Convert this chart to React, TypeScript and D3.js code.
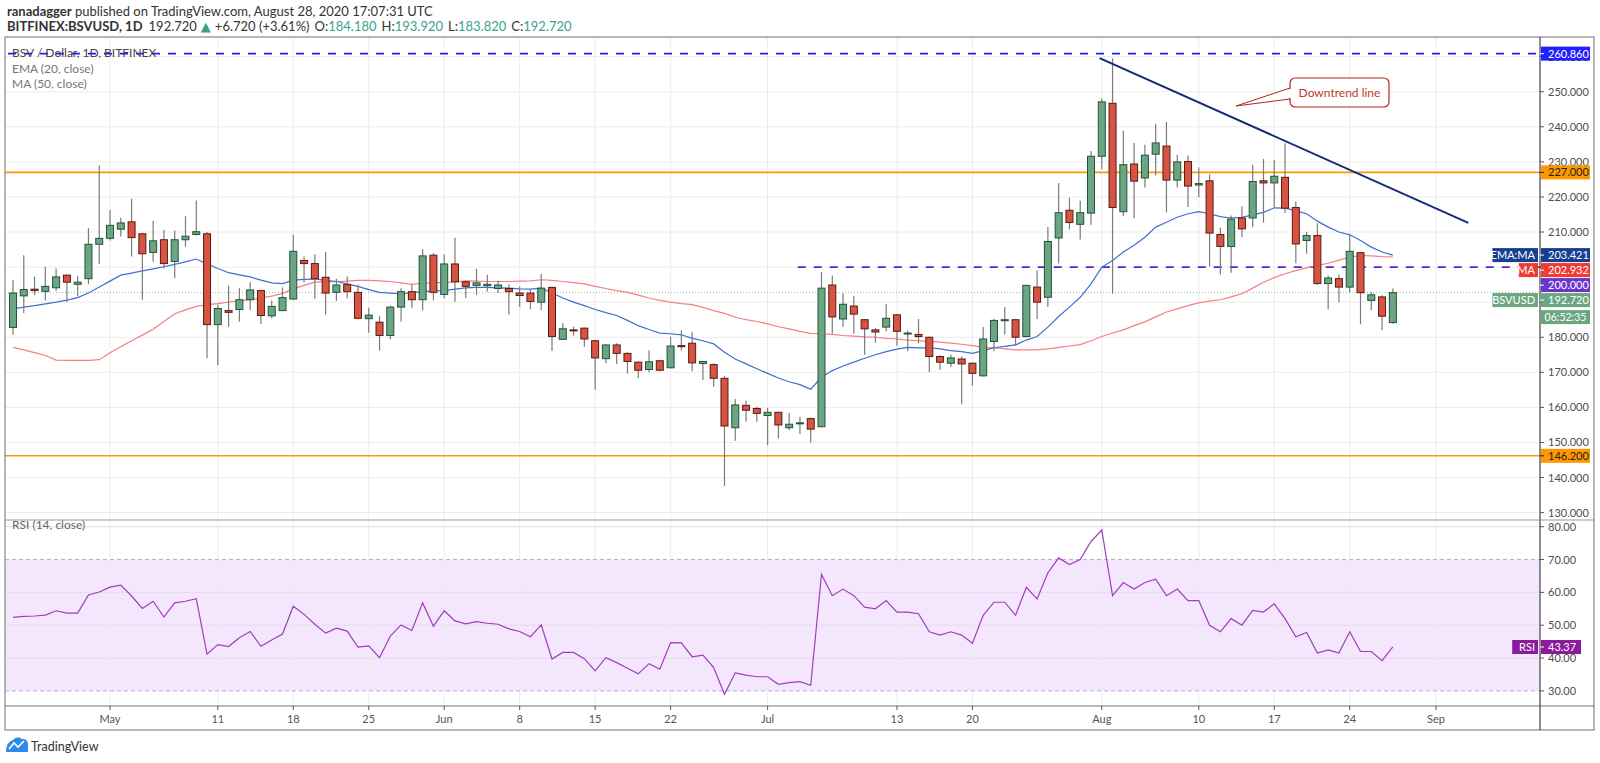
import React from 'react';
import * as d3 from 'd3';

// BSV / USD daily candles, 22 Apr 2020 -> 28 Aug 2020
const firstDay = new Date(Date.UTC(2020, 3, 22));
const axisEndDay = new Date(Date.UTC(2020, 8, 4));

const opens = [
  182.8, 191.8, 193.7, 193.1, 194.1, 197.7, 195.1, 196.7, 206.5,
  208.2, 210.8, 212.9, 209.5, 204.2, 207.8, 201.6, 207.8, 209.3, 209.5, 183.6, 187.6, 187.9, 190.7, 193.3, 186.1,
  187.6, 190.9, 201.9, 201.0, 197.1, 192.8, 195.0, 192.8, 185.3, 184.3, 180.5, 188.6, 193.0, 190.7, 203.4,
  192.2, 200.9, 195.8, 194.8, 194.7, 193.9, 193.9, 192.6, 192.6, 190.0, 194.2, 179.4, 182.1, 182.6, 179.0,
  173.9, 177.8, 175.4, 172.9, 170.8, 173.3, 171.3, 177.6, 178.3, 172.5, 172.2, 168.3, 154.2, 160.6, 159.7,
  157.7, 158.6, 154.2, 155.5, 156.8, 154.5, 194.9, 185.2, 188.9, 185.0, 182.1, 182.9, 186.4, 181.1, 180.8,
  180.0, 174.5, 172.6, 173.8, 172.6, 169.0, 178.8, 184.9, 185.0, 180.2, 194.3, 191.4, 208.3, 216.2, 212.2, 215.4,
  231.6, 246.7, 215.8, 229.4, 225.4, 232.2, 234.5, 224.8, 230.1, 223.4, 224.6, 209.3, 205.9, 214.0,
  214.0, 224.6, 224.0, 225.6, 217.0, 207.6, 209.0, 195.3, 196.7, 194.3, 204.1, 190.5, 191.5, 184.18,
];
const highs = [
  196.3, 203.4, 197.3, 200.1, 199.6, 197.9, 197.5, 211.1, 229.0,
  216.3, 214.1, 219.5, 209.8, 213.2, 210.6, 210.4, 214.5, 219.0, 210.0, 189.3, 194.7, 194.0, 195.7, 193.5, 190.5,
  194.2, 209.2, 203.0, 203.6, 204.3, 196.7, 197.3, 195.0, 188.4, 186.1, 189.0, 194.0, 195.0, 205.1, 204.0,
  203.6, 208.4, 196.2, 199.5, 197.8, 196.1, 195.1, 194.5, 193.5, 198.0, 194.5, 184.0, 183.0, 182.8, 179.3,
  178.0, 178.3, 175.7, 173.1, 176.2, 173.4, 180.2, 181.9, 181.6, 173.2, 172.6, 169.0, 162.4, 161.9, 160.2,
  159.8, 158.8, 158.4, 157.3, 157.1, 198.6, 197.6, 192.5, 191.8, 185.2, 182.6, 189.5, 186.6, 181.9, 185.2,
  180.2, 174.8, 175.0, 174.5, 172.8, 182.9, 185.2, 188.6, 185.2, 195.0, 199.0, 211.4, 224.0, 219.8, 218.9, 233.1,
  248.1, 259.5, 238.9, 235.4, 234.9, 240.8, 241.4, 232.0, 231.8, 228.4, 226.4, 211.2, 214.7, 217.3,
  229.2, 230.8, 230.5, 235.3, 218.7, 210.0, 212.5, 197.6, 197.9, 209.5, 204.3, 192.9, 192.0, 193.92,
];
const lows = [
  180.7, 186.9, 192.0, 190.5, 193.2, 190.0, 191.7, 195.1, 200.9,
  207.6, 208.7, 203.0, 190.7, 201.5, 199.6, 196.9, 205.8, 209.0, 174.0, 172.0, 183.0, 184.5, 187.8, 183.8, 185.4,
  187.4, 190.7, 195.6, 191.0, 186.5, 190.3, 191.1, 185.1, 181.3, 176.2, 179.4, 184.5, 188.3, 187.6, 190.5,
  191.1, 190.1, 191.2, 192.1, 193.0, 192.6, 186.5, 188.6, 188.0, 187.8, 176.1, 179.2, 180.5, 177.3, 165.0,
  172.6, 172.4, 169.7, 168.3, 170.0, 170.4, 171.1, 176.2, 170.3, 167.8, 165.9, 137.6, 150.5, 156.0, 155.9,
  149.3, 151.1, 153.5, 152.4, 150.0, 154.3, 181.1, 183.0, 181.1, 175.0, 178.4, 181.7, 177.6, 176.0, 178.3,
  170.0, 170.7, 171.6, 161.0, 166.2, 168.8, 176.0, 180.8, 177.6, 180.0, 185.2, 188.6, 201.0, 210.8, 207.9, 212.1,
  227.9, 192.4, 214.5, 213.9, 222.7, 226.1, 215.6, 222.7, 217.1, 219.9, 200.2, 197.9, 198.4, 208.5,
  211.4, 212.7, 217.1, 215.4, 201.1, 203.8, 195.0, 188.0, 190.0, 192.7, 183.7, 187.7, 182.0, 183.82,
];
const closes = [
  192.6, 193.6, 193.3, 194.5, 197.2, 195.7, 195.7, 206.5, 208.2,
  211.9, 212.6, 208.4, 203.8, 207.5, 201.0, 207.8, 208.8, 210.1, 183.6, 188.2, 187.1, 190.7, 193.5, 186.2, 188.8,
  191.3, 204.5, 201.0, 196.7, 192.6, 194.9, 193.0, 185.4, 186.3, 180.5, 188.6, 193.0, 190.7, 203.2, 192.8,
  200.9, 195.8, 194.5, 195.5, 195.1, 194.9, 193.0, 191.9, 190.2, 194.0, 180.2, 182.4, 182.0, 179.5, 174.1,
  177.8, 175.4, 173.1, 170.6, 173.0, 170.6, 177.5, 177.5, 172.7, 173.1, 168.3, 154.7, 160.7, 159.2, 158.3,
  158.6, 155.0, 155.2, 155.6, 153.8, 194.0, 185.8, 189.4, 186.6, 182.4, 181.5, 185.4, 181.7, 181.2, 180.2,
  174.5, 172.9, 174.1, 172.4, 169.7, 179.5, 184.8, 185.0, 180.0, 194.8, 190.0, 207.3, 215.5, 212.7, 215.5, 231.6,
  247.1, 217.0, 229.2, 224.5, 231.9, 235.4, 224.8, 230.0, 223.1, 223.8, 209.7, 205.9, 213.7, 210.9,
  224.4, 224.0, 225.9, 216.8, 206.6, 209.0, 195.3, 196.9, 194.3, 204.5, 192.7, 192.1, 186.0, 192.72,
];

// EMA (20, close) and MA (50, close) as drawn
const ema20 = [
  188.1, 188.6, 189.0, 189.5, 190.0, 190.6, 191.3, 192.6, 194.3,
  196.0, 197.7, 198.3, 198.9, 199.5, 200.1, 200.8, 201.5, 202.3, 200.9, 199.6, 198.4, 197.8, 197.2, 196.3, 195.5,
  195.3, 196.3, 196.5, 196.6, 196.2, 195.9, 195.2, 194.5, 193.6, 192.8, 192.6, 192.4, 192.7, 193.0, 193.2,
  193.3, 193.7, 194.1, 194.2, 194.2, 194.1, 194.0, 193.8, 193.7, 194.0, 192.6, 191.2, 190.0, 189.0, 187.9,
  187.0, 186.2, 184.8, 183.3, 182.2, 181.2, 181.0, 180.7, 179.7, 179.0, 178.1, 175.7, 173.8, 172.4, 171.0,
  169.7, 168.4, 167.3, 166.5, 165.2, 168.6, 170.5, 171.8, 172.9, 174.0, 175.0, 175.9, 176.6, 177.1, 177.0,
  177.0, 176.7, 176.2, 175.9, 175.4, 176.2, 177.0, 177.4, 177.8, 179.2, 180.2, 182.9, 185.9, 188.6, 191.4, 195.2,
  200.0, 201.9, 204.3, 206.2, 208.5, 211.4, 212.8, 214.2, 215.2, 215.8, 215.2, 214.4, 214.0, 214.2,
  214.9, 215.6, 216.9, 216.8, 216.1, 215.2, 213.1, 211.4, 210.0, 209.2, 207.6, 205.7, 204.3, 203.4,
];
const ma50 = [
  177.1, 176.4, 175.6, 174.8, 173.5, 173.4, 173.4, 173.4, 173.6,
  175.6, 177.3, 179.0, 180.6, 182.3, 184.5, 186.7, 187.8, 188.8, 189.3, 189.6, 190.0, 190.4, 190.7, 191.2, 191.7,
  192.5, 193.8, 194.8, 195.7, 195.8, 195.9, 196.0, 196.2, 196.2, 196.1, 195.9, 195.5, 195.1, 195.4, 195.6,
  195.6, 195.8, 196.1, 196.0, 195.9, 195.9, 195.9, 196.0, 196.1, 196.4, 196.2, 195.9, 195.6, 195.2, 194.5,
  193.9, 193.3, 192.8, 192.0, 191.2, 190.5, 190.0, 189.6, 189.3, 188.5, 187.6, 186.8, 185.7, 185.0, 184.5,
  183.8, 183.0, 182.4, 181.7, 181.1, 181.0, 180.8, 180.5, 180.3, 180.1, 180.0, 179.7, 179.5, 179.2, 179.0,
  178.8, 178.6, 178.3, 178.0, 177.6, 177.1, 177.0, 176.7, 176.4, 176.4, 176.4, 176.7, 177.1, 177.5, 177.9, 179.0,
  180.2, 181.2, 182.1, 183.3, 184.4, 185.8, 187.2, 188.1, 189.0, 189.8, 190.3, 190.7, 191.5, 192.4,
  194.0, 195.7, 197.0, 198.1, 199.0, 199.8, 200.5, 201.1, 202.0, 202.8, 203.3, 203.2, 203.0, 202.9,
];
// RSI (14, close)
const rsi14 = [
  52.4, 52.7, 52.8, 53.1, 54.4, 53.7, 53.7, 59.2, 60.1,
  61.6, 62.2, 58.9, 55.1, 57.3, 52.5, 56.8, 57.3, 58.1, 41.2, 44.1, 43.5, 46.2, 48.1, 43.6, 45.5,
  47.3, 55.8, 53.3, 50.3, 47.6, 49.1, 48.2, 43.3, 43.7, 40.1, 46.7, 50.1, 48.4, 56.8, 49.7,
  54.4, 51.3, 50.4, 51.1, 50.6, 50.3, 48.9, 48.1, 46.5, 50.1, 39.7, 41.7, 41.7, 39.8, 36.1,
  40.1, 38.6, 36.9, 35.2, 38.3, 36.6, 44.7, 44.6, 40.4, 40.9, 37.1, 29.0, 35.5, 34.8, 34.3,
  34.3, 32.0, 32.5, 32.8, 31.7, 65.5, 59.0, 61.0, 59.0, 55.5, 55.0, 57.5, 54.0, 54.0, 53.5,
  48.0, 47.0, 48.0, 47.0, 44.5, 53.0, 57.0, 57.0, 53.0, 61.5, 58.0, 66.0, 70.5, 68.5, 70.0, 75.5,
  79.0, 59.0, 63.0, 61.0, 63.0, 64.0, 59.0, 61.0, 57.5, 57.5, 50.0, 48.0, 52.0, 50.0,
  54.5, 54.0, 56.5, 52.0, 46.5, 47.8, 41.5, 42.5, 41.5, 48.0, 42.0, 42.0, 39.2, 43.37,
];

// time axis
const tickDates = [
  [2020, 4, 1], [2020, 4, 11], [2020, 4, 18], [2020, 4, 25], [2020, 5, 1], [2020, 5, 8], [2020, 5, 15], [2020, 5, 22],
  [2020, 6, 1], [2020, 6, 13], [2020, 6, 20], [2020, 7, 1], [2020, 7, 10], [2020, 7, 17], [2020, 7, 24], [2020, 8, 1],
];
const tickLabels = ['May', '11', '18', '25', 'Jun', '8', '15', '22', 'Jul', '13', '20', 'Aug', '10', '17', '24', 'Sep'];
const priceTicks = d3.range(130, 261, 10);
const rsiTicks = [30, 40, 50, 60, 70, 80];

// drawn levels
const resistanceTop = 260.86;
const orangeLevels = [227.0, 146.2];
const level200 = 200.0;
const level200StartDay = 72.8;
const lastClose = 192.72;
const lastEma = 203.421;
const lastMa = 202.932;
const lastRsi = 43.37;
const trendLine = [
  { day: 100.8, price: 259.6 },
  { day: 135.0, price: 212.6 },
];

const FONT = 'Lato, "Open Sans", "DejaVu Sans", sans-serif';
const UP_FILL = '#6ba583';
const UP_LINE = '#225437';
const DOWN_FILL = '#d75442';
const DOWN_LINE = '#5b1a13';
const TEAL = '#3a9f8e';

const L = 5, R = 1594, AXIS_X = 1540, TOP = 37, PANE_B = 520, RSI_B = 706, BOTTOM = 730;

export default function App() {
  const x = d3.scaleUtc().domain([firstDay, axisEndDay]).range([13, 1468.3]);
  const dayX = (d: number) => x(new Date(firstDay.getTime() + d * 86400000));
  const y = d3.scaleLinear().domain([127.9, 265.6]).range([PANE_B, TOP]);
  const yr = d3.scaleLinear().domain([25.4, 82.04]).range([RSI_B, PANE_B]);

  const emaLine = d3.line<number>().x((_, i) => dayX(i)).y((v) => y(v));
  const rsiLine = d3.line<number>().x((_, i) => dayX(i)).y((v) => yr(v));

  const ticks = tickDates.map(([yy, m, d]) => new Date(Date.UTC(yy, m, d)));

  // stacked axis labels near the last price
  const stack = [
    { v: lastEma, label: 'EMA:MA', color: '#163f92', text: lastEma.toFixed(3) },
    { v: lastMa, label: 'MA', color: '#ef3b34', text: lastMa.toFixed(3) },
    { v: level200, label: '', color: '#6a35c9', text: level200.toFixed(3) },
    { v: lastClose, label: 'BSVUSD', color: '#6aa781', text: lastClose.toFixed(3) },
  ];
  let prev = -Infinity;
  const stacked = stack.map((s) => {
    const cy = Math.max(y(s.v), prev + 15);
    prev = cy;
    return { ...s, cy };
  });
  const countdownY = prev + 17;

  const labelBoxW = (t: string) => t.length * 6.6 + 6;

  return (
    <svg width={1600} height={763} style={{ position: 'absolute', left: 0, top: 0, background: '#fff' }} fontFamily={FONT}>
      <rect x={0} y={0} width={1600} height={763} fill="#fff" />
      {/* header */}
      <text x={7} y={16} fontSize={13} fill="#333">
        <tspan fontWeight="bold">ranadagger</tspan> published on TradingView.com, August 28, 2020 17:07:31 UTC
      </text>
      <text x={7} y={31} fontSize={13} fill="#333">
        <tspan fontWeight="bold">BITFINEX:BSVUSD, 1D</tspan>
        <tspan dx={6}>192.720</tspan>
        <tspan fill={TEAL} dx={4}>▲</tspan>
        <tspan dx={4}>+6.720 (+3.61%)</tspan>
        <tspan dx={5}>O:</tspan><tspan fill={TEAL}>184.180</tspan>
        <tspan dx={5}>H:</tspan><tspan fill={TEAL}>193.920</tspan>
        <tspan dx={5}>L:</tspan><tspan fill={TEAL}>183.820</tspan>
        <tspan dx={5}>C:</tspan><tspan fill={TEAL}>192.720</tspan>
      </text>

      {/* rsi band */}
      <rect x={L} y={yr(70)} width={AXIS_X - L} height={yr(30) - yr(70)} fill="#f4e6fd" />

      {/* grid */}
      {priceTicks.map((p) => (
        <line key={'gp' + p} x1={L} x2={AXIS_X} y1={y(p)} y2={y(p)} stroke="#ececec" />
      ))}
      {[40, 50, 60, 80].map((r) => (
        <line key={'gr' + r} x1={L} x2={AXIS_X} y1={yr(r)} y2={yr(r)} stroke="#e6dcea" />
      ))}
      {ticks.map((t, i) => (
        <line key={'gv' + i} x1={x(t)} x2={x(t)} y1={TOP} y2={RSI_B} stroke="#ececec" />
      ))}
      {[30, 70].map((r) => (
        <line key={'rb' + r} x1={L} x2={AXIS_X} y1={yr(r)} y2={yr(r)} stroke="#c4a9cf" strokeDasharray="4,3" />
      ))}

      {/* levels */}
      {orangeLevels.map((p) => (
        <line key={'ol' + p} x1={L} x2={AXIS_X} y1={y(p)} y2={y(p)} stroke="#ff9800" strokeWidth={1.6} />
      ))}
      <line x1={dayX(level200StartDay)} x2={AXIS_X} y1={y(level200)} y2={y(level200)} stroke="#5b1fd1" strokeWidth={1.6} strokeDasharray="8,8" />
      <line x1={L} x2={AXIS_X} y1={y(lastClose)} y2={y(lastClose)} stroke="#8fc2a6" strokeWidth={1} strokeDasharray="1,2" />

      {/* moving averages */}
      <path d={emaLine(ma50) ?? ''} fill="none" stroke="#f57f83" strokeWidth={1.2} />
      <path d={emaLine(ema20) ?? ''} fill="none" stroke="#3f6fce" strokeWidth={1.2} />

      {/* candles */}
      {closes.map((c, i) => {
        const o = opens[i];
        const up = c >= o;
        const cx = dayX(i);
        const top = y(Math.max(o, c));
        const bot = y(Math.min(o, c));
        return (
          <g key={'c' + i}>
            <line x1={cx} x2={cx} y1={y(highs[i])} y2={y(lows[i])} stroke="#7b7b7b" strokeWidth={1.2} />
            <rect x={cx - 3.5} y={top} width={7} height={Math.max(bot - top, 1)}
              fill={up ? UP_FILL : DOWN_FILL} stroke={up ? UP_LINE : DOWN_LINE} strokeWidth={1} />
          </g>
        );
      })}

      {/* top resistance dashed */}
      <line x1={L + 3} x2={AXIS_X} y1={y(resistanceTop)} y2={y(resistanceTop)} stroke="#1f1fff" strokeWidth={1.6} strokeDasharray="8,8" />

      {/* downtrend line */}
      <line x1={dayX(trendLine[0].day)} y1={y(trendLine[0].price)} x2={dayX(trendLine[1].day)} y2={y(trendLine[1].price)}
        stroke="#13297a" strokeWidth={2} />

      {/* callout */}
      <g>
        <path d="M1236,106 L1290,88 L1290,99 Z" fill="#fff" stroke="#b3261e" strokeWidth={1} />
        <rect x={1290} y={78} width={99} height={29} rx={5} fill="#fff" stroke="#b3261e" strokeWidth={1.2} />
        <line x1={1290} x2={1290} y1={89} y2={98} stroke="#fff" strokeWidth={2} />
        <text x={1339.5} y={96.5} fontSize={12} fill="#c0392b" textAnchor="middle">Downtrend line</text>
      </g>

      {/* rsi line */}
      <path d={rsiLine(rsi14) ?? ''} fill="none" stroke="#a23cba" strokeWidth={1.2} />

      {/* legends */}
      <text x={12} y={57} fontSize={12} fill="#444">BSV / Dollar, 1D, BITFINEX</text>
      <text x={12} y={73} fontSize={12} fill="#777">EMA (20, close)</text>
      <text x={12} y={88} fontSize={12} fill="#777">MA (50, close)</text>
      <text x={12} y={529} fontSize={12} fill="#666">RSI (14, close)</text>

      {/* frame + separators */}
      <rect x={L} y={TOP} width={R - L} height={BOTTOM - TOP} fill="none" stroke="#888" strokeWidth={1.2} />
      <line x1={L} x2={R} y1={PANE_B} y2={PANE_B} stroke="#9a9a9a" strokeWidth={1.2} />
      <line x1={L} x2={R} y1={RSI_B} y2={RSI_B} stroke="#777" strokeWidth={1.2} />
      <rect x={AXIS_X + 1} y={TOP + 1} width={R - AXIS_X - 2} height={BOTTOM - TOP - 2} fill="#fff" />
      <line x1={AXIS_X} x2={AXIS_X} y1={TOP} y2={BOTTOM} stroke="#444" strokeWidth={1.2} />
      <line x1={AXIS_X} x2={R} y1={PANE_B} y2={PANE_B} stroke="#9a9a9a" strokeWidth={1.2} />
      <line x1={AXIS_X} x2={R} y1={RSI_B} y2={RSI_B} stroke="#777" strokeWidth={1.2} />

      {/* price axis */}
      {priceTicks.map((p) => (
        <g key={'pa' + p}>
          <line x1={AXIS_X} x2={AXIS_X + 4} y1={y(p)} y2={y(p)} stroke="#555" />
          <text x={AXIS_X + 8} y={y(p) + 4} fontSize={11} fill="#4d4d4d">{p.toFixed(3)}</text>
        </g>
      ))}
      {rsiTicks.map((r) => (
        <g key={'ra' + r}>
          <line x1={AXIS_X} x2={AXIS_X + 4} y1={yr(r)} y2={yr(r)} stroke="#555" />
          <text x={AXIS_X + 8} y={yr(r) + 4} fontSize={11} fill="#4d4d4d">{r.toFixed(2)}</text>
        </g>
      ))}

      {/* axis value boxes */}
      {[
        { v: resistanceTop, color: '#1f1fff', t: '#fff' },
        { v: orangeLevels[0], color: '#ff9800', t: '#222' },
        { v: orangeLevels[1], color: '#ff9800', t: '#222' },
      ].map((b) => (
        <g key={'bx' + b.v}>
          <rect x={AXIS_X + 1} y={y(b.v) - 7} width={49} height={14} fill={b.color} />
          <line x1={AXIS_X} x2={AXIS_X + 4} y1={y(b.v)} y2={y(b.v)} stroke={b.t} />
          <text x={AXIS_X + 8} y={y(b.v) + 4} fontSize={11} fill={b.t}>{b.v.toFixed(3)}</text>
        </g>
      ))}
      {stacked.map((s) => (
        <g key={'st' + s.v}>
          {s.label && (
            <g>
              <rect x={AXIS_X - 2 - labelBoxW(s.label)} y={s.cy - 7} width={labelBoxW(s.label)} height={14} fill={s.color} />
              <text x={AXIS_X - 5} y={s.cy + 4} fontSize={11} fill="#fff" textAnchor="end">{s.label}</text>
            </g>
          )}
          <rect x={AXIS_X + 1} y={s.cy - 7} width={49} height={14} fill={s.color} />
          <line x1={AXIS_X} x2={AXIS_X + 4} y1={s.cy} y2={s.cy} stroke="#fff" />
          <text x={AXIS_X + 8} y={s.cy + 4} fontSize={11} fill="#fff">{s.text}</text>
        </g>
      ))}
      <rect x={AXIS_X + 1} y={countdownY - 7} width={49} height={14} fill="#6aa781" />
      <text x={AXIS_X + 25.5} y={countdownY + 4} fontSize={10.5} fill="#fff" textAnchor="middle">06:52:35</text>

      {/* rsi value */}
      <rect x={AXIS_X - 2 - labelBoxW('RSI')} y={yr(lastRsi) - 7} width={labelBoxW('RSI')} height={14} fill="#8c1a9c" />
      <text x={AXIS_X - 5} y={yr(lastRsi) + 4} fontSize={11} fill="#fff" textAnchor="end">RSI</text>
      <rect x={AXIS_X + 1} y={yr(lastRsi) - 7} width={40} height={14} fill="#8c1a9c" />
      <line x1={AXIS_X} x2={AXIS_X + 4} y1={yr(lastRsi)} y2={yr(lastRsi)} stroke="#fff" />
      <text x={AXIS_X + 8} y={yr(lastRsi) + 4} fontSize={11} fill="#fff">{lastRsi.toFixed(2)}</text>

      {/* time axis */}
      {ticks.map((t, i) => (
        <g key={'ta' + i}>
          <line x1={x(t)} x2={x(t)} y1={RSI_B} y2={RSI_B + 4} stroke="#555" />
          <text x={x(t)} y={RSI_B + 17} fontSize={11} fill="#555" textAnchor="middle">{tickLabels[i]}</text>
        </g>
      ))}

      {/* TradingView mark */}
      <g>
        <path d="M6,752 Q6,742 13,740 Q17,735 22,739 Q28,738 28,745 L28,752 Z" fill="#2e8bea" />
        <path d="M9,749 L14,743 L18,747 L24,741" fill="none" stroke="#fff" strokeWidth={1.6} />
        <text x={31} y={751} fontSize={12.5} fill="#333">TradingView</text>
      </g>
    </svg>
  );
}
